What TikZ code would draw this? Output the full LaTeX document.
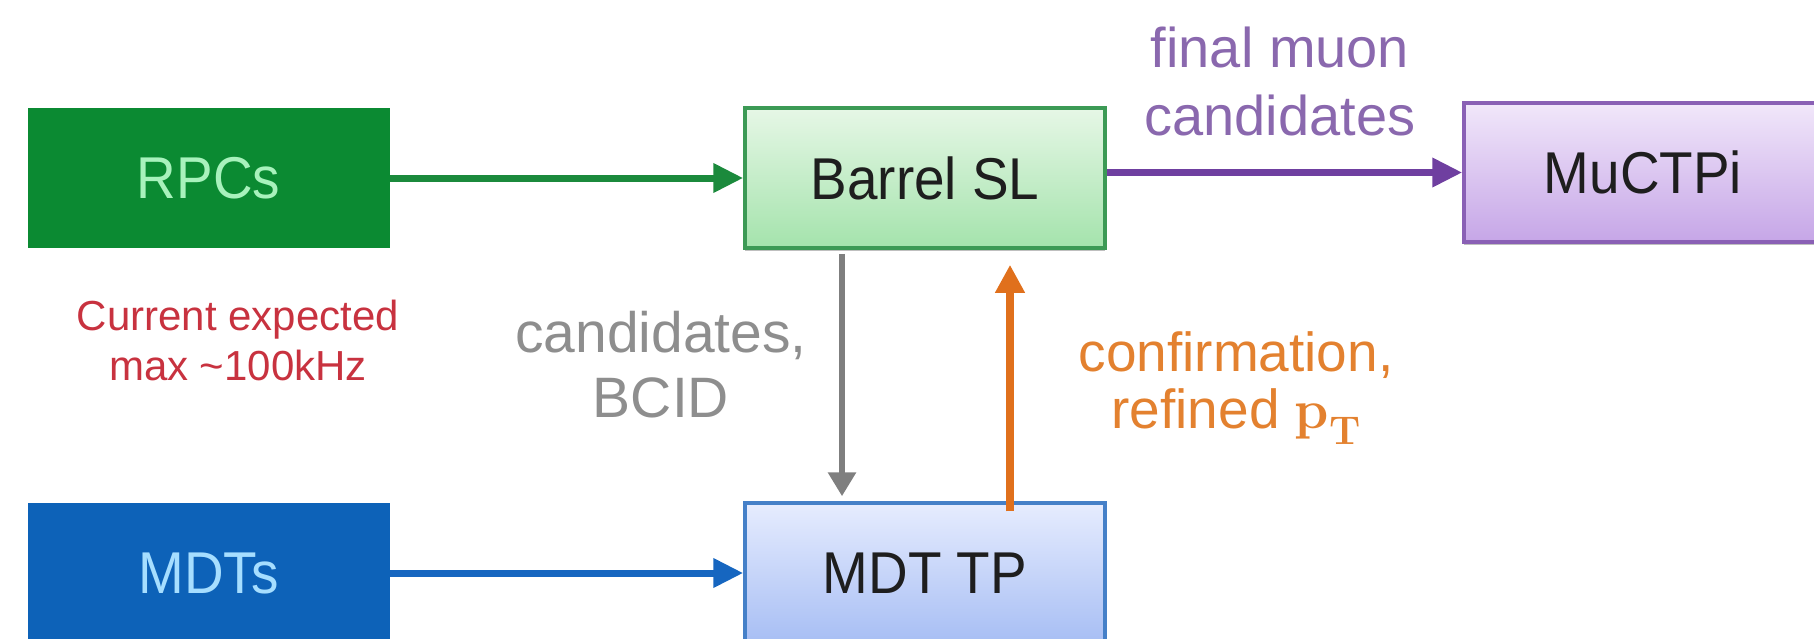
\documentclass[tikz,border=0pt]{standalone}
\usepackage{fontspec}
\setmainfont{Liberation Sans}
\newfontfamily\boxfont[FakeStretch=0.93]{Liberation Sans}
\newfontfamily\physfont{Latin Modern Roman}
\usetikzlibrary{arrows.meta,shadows}

% transverse momentum symbol, upright bold serif
\newcommand{\ptsym}{{\physfont\bfseries p\raisebox{-0.28em}{\fontsize{40}{40}\selectfont T}}}

% box colours
\definecolor{rpcfill}{HTML}{0B8A32}
\definecolor{rpctext}{HTML}{A8F2BC}
\definecolor{mdtfill}{HTML}{0D62B8}
\definecolor{mdttext}{HTML}{A6DEFF}
\definecolor{slborder}{HTML}{3C9A55}
\definecolor{sltop}{HTML}{E6F7E6}
\definecolor{slbot}{HTML}{A4E3AC}
\definecolor{tpborder}{HTML}{4580C8}
\definecolor{tptop}{HTML}{E6ECFE}
\definecolor{tpbot}{HTML}{A7BEF4}
\definecolor{muborder}{HTML}{8A60B5}
\definecolor{mutop}{HTML}{F1E7FA}
\definecolor{mubot}{HTML}{C6A6E7}
\definecolor{boxtext}{HTML}{1E1E1E}
% connector colours
\definecolor{arrgreen}{HTML}{1B8A3C}
\definecolor{arrblue}{HTML}{1666C0}
\definecolor{arrpurple}{HTML}{6F3FA0}
\definecolor{arrgray}{HTML}{7F7F7F}
\definecolor{arrorange}{HTML}{E0701C}
% label colours
\definecolor{lblred}{HTML}{C8323F}
\definecolor{lblgray}{HTML}{8E8E8E}
\definecolor{lblorange}{HTML}{E3812F}
\definecolor{lblpurple}{HTML}{8A68AE}

\tikzset{
  box/.style={rectangle, minimum width=360pt, minimum height=140pt,
    inner sep=0pt, font=\boxfont\fontsize{59}{66}\selectfont},
  solidbox/.style={box, draw=none},
  softbox/.style={box, line width=3.5pt,
    drop shadow={shadow xshift=0pt, shadow yshift=-3pt, opacity=0.25, fill=black}},
  flow/.style={line width=7pt, -{Triangle[length=30pt,width=28pt]}},
  lbl/.style={align=center, inner sep=0pt},
}

\begin{document}
\begin{tikzpicture}[x=1pt, y=-1pt]
  \useasboundingbox (0,0) rectangle (1814,638);
  \clip (0,0) rectangle (1814,638);

  % source boxes
  \node[solidbox, fill=rpcfill, text=rpctext, minimum width=362pt] (rpc) at (208.5,178) {RPCs};
  \node[solidbox, fill=mdtfill, text=mdttext, minimum width=362pt] (mdt) at (208.5,573) {MDTs};

  % processing boxes
  \node[softbox, draw=slborder, top color=sltop, bottom color=slbot, text=boxtext] (sl) at (925,178) {Barrel SL};
  \node[softbox, draw=tpborder, top color=tptop, bottom color=tpbot, text=boxtext] (tp) at (925,573) {MDT TP};
  \node[softbox, draw=muborder, top color=mutop, bottom color=mubot, text=boxtext, minimum width=358pt, minimum height=139pt] (mu) at (1643,172.5) {MuCTPi};

  % connectors
  \draw[flow, arrgreen] (rpc) -- (sl);
  \draw[flow, arrblue] (mdt) -- (tp);
  \draw[flow, arrpurple] (sl.east |- mu.west) -- (mu.west);
  \draw[flow, arrgray, line width=6.5pt, -{Triangle[length=24pt,width=27pt]}]
    ([xshift=-83pt, yshift=-4pt]sl.south) -- ([xshift=-83pt, yshift=5pt]tp.north);
  \draw[flow, arrorange, line width=7.5pt, -{Triangle[length=28pt,width=28pt]}]
    ([xshift=85pt, yshift=-10pt]tp.north) -- ([xshift=85pt, yshift=-15pt]sl.south);

  % labels
  \node[lbl, text=lblpurple, font=\fontsize{56}{68}\selectfont] (lfinal) at (1280,81) {final muon\\candidates};
  \node[lbl, text=lblred, font=\fontsize{42}{50}\selectfont] (lrate) at (238,340) {Current expected\\max \textasciitilde100kHz};
  \node[lbl, text=lblgray, font=\fontsize{57}{65}\selectfont] (lcand) at (661,365) {candidates,\\BCID};
  \node[lbl, text=lblorange, font=\fontsize{55}{57}\selectfont] (lconf) at (1236,388) {confirmation,\\refined \ptsym};
\end{tikzpicture}
\end{document}
